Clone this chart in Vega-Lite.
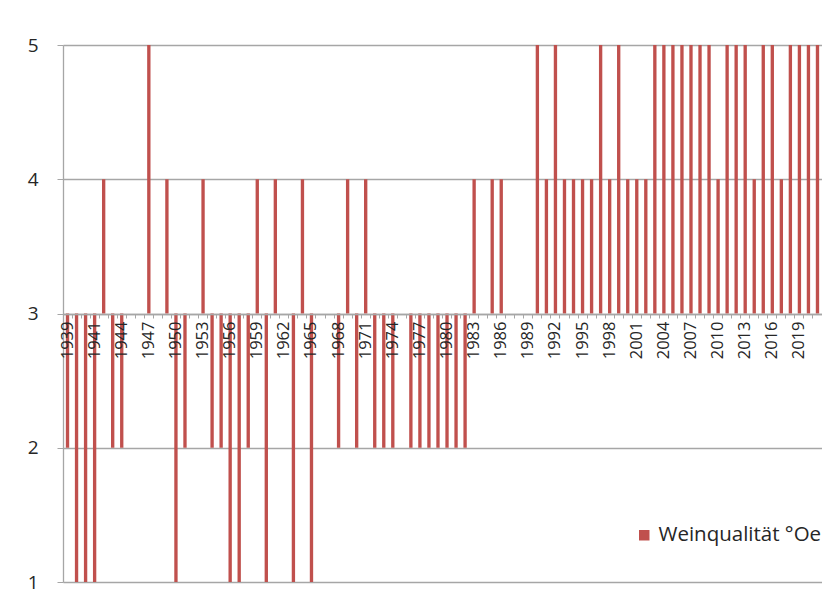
{
  "$schema": "https://vega.github.io/schema/vega-lite/v6.json",
  "width": 759,
  "height": 537,
  "autosize": "none",
  "padding": {"left": 63, "top": 45, "right": 0, "bottom": 18},
  "background": "white",
  "config": {"font": "Open Sans", "view": {"stroke": null}},
  "data": {"values": [
    {"year": 1938, "quality": 2}, {"year": 1939, "quality": 1}, {"year": 1940, "quality": 1}, {"year": 1941, "quality": 1},
    {"year": 1942, "quality": 4}, {"year": 1943, "quality": 2}, {"year": 1944, "quality": 2}, {"year": 1945, "quality": 3},
    {"year": 1946, "quality": 3}, {"year": 1947, "quality": 5}, {"year": 1948, "quality": 3}, {"year": 1949, "quality": 4},
    {"year": 1950, "quality": 1}, {"year": 1951, "quality": 2}, {"year": 1952, "quality": 3}, {"year": 1953, "quality": 4},
    {"year": 1954, "quality": 2}, {"year": 1955, "quality": 2}, {"year": 1956, "quality": 1}, {"year": 1957, "quality": 1},
    {"year": 1958, "quality": 2}, {"year": 1959, "quality": 4}, {"year": 1960, "quality": 1}, {"year": 1961, "quality": 4},
    {"year": 1962, "quality": 3}, {"year": 1963, "quality": 1}, {"year": 1964, "quality": 4}, {"year": 1965, "quality": 1},
    {"year": 1966, "quality": 3}, {"year": 1967, "quality": 3}, {"year": 1968, "quality": 2}, {"year": 1969, "quality": 4},
    {"year": 1970, "quality": 2}, {"year": 1971, "quality": 4}, {"year": 1972, "quality": 2}, {"year": 1973, "quality": 2},
    {"year": 1974, "quality": 2}, {"year": 1975, "quality": 3}, {"year": 1976, "quality": 2}, {"year": 1977, "quality": 2},
    {"year": 1978, "quality": 2}, {"year": 1979, "quality": 2}, {"year": 1980, "quality": 2}, {"year": 1981, "quality": 2},
    {"year": 1982, "quality": 2}, {"year": 1983, "quality": 4}, {"year": 1984, "quality": 3}, {"year": 1985, "quality": 4},
    {"year": 1986, "quality": 4}, {"year": 1987, "quality": 3}, {"year": 1988, "quality": 3}, {"year": 1989, "quality": 3},
    {"year": 1990, "quality": 5}, {"year": 1991, "quality": 4}, {"year": 1992, "quality": 5}, {"year": 1993, "quality": 4},
    {"year": 1994, "quality": 4}, {"year": 1995, "quality": 4}, {"year": 1996, "quality": 4}, {"year": 1997, "quality": 5},
    {"year": 1998, "quality": 4}, {"year": 1999, "quality": 5}, {"year": 2000, "quality": 4}, {"year": 2001, "quality": 4},
    {"year": 2002, "quality": 4}, {"year": 2003, "quality": 5}, {"year": 2004, "quality": 5}, {"year": 2005, "quality": 5},
    {"year": 2006, "quality": 5}, {"year": 2007, "quality": 5}, {"year": 2008, "quality": 5}, {"year": 2009, "quality": 5},
    {"year": 2010, "quality": 4}, {"year": 2011, "quality": 5}, {"year": 2012, "quality": 5}, {"year": 2013, "quality": 5},
    {"year": 2014, "quality": 4}, {"year": 2015, "quality": 5}, {"year": 2016, "quality": 5}, {"year": 2017, "quality": 4},
    {"year": 2018, "quality": 5}, {"year": 2019, "quality": 5}, {"year": 2020, "quality": 5}, {"year": 2021, "quality": 5}
  ]},
  "mark": {"type": "bar", "width": {"band": 0.37}},
  "encoding": {
    "x": {
      "field": "year",
      "type": "ordinal",
      "scale": {"paddingInner": 0, "paddingOuter": 0},
      "axis": {
        "title": null,
        "offset": -268,
        "bandPosition": 1,
        "labelAngle": -90,
        "labelAlign": "right",
        "labelBaseline": "middle",
        "labelExpr": "datum.value == 1938 ? '1939' : ((datum.value - 1938) % 3 == 0 ? '' + datum.value : '')",
        "labelOverlap": false,
        "labelFontSize": 16.5,
        "labelColor": "#262626",
        "labelPadding": 3,
        "tickSize": 4,
        "tickColor": "#a6a6a6",
        "domainColor": "#a6a6a6",
        "domainWidth": 1.3,
        "grid": false,
        "zindex": 1
      }
    },
    "y": {
      "field": "quality",
      "type": "quantitative",
      "scale": {"domain": [1, 5], "nice": false, "zero": false},
      "axis": {
        "title": null,
        "values": [1, 2, 3, 4, 5],
        "grid": true,
        "gridColor": "#a6a6a6",
        "gridWidth": 1.3,
        "domainColor": "#a6a6a6",
        "domainWidth": 1.3,
        "tickColor": "#a6a6a6",
        "tickSize": 6,
        "labelFontSize": 19,
        "labelColor": "#262626",
        "labelPadding": 19
      }
    },
    "y2": {"datum": 3},
    "color": {
      "datum": "Weinqualität °Oe",
      "scale": {"range": ["#c0504d"]},
      "legend": {
        "title": null,
        "orient": "none",
        "legendX": 571,
        "legendY": 480,
        "symbolType": "square",
        "symbolSize": 110,
        "symbolStrokeWidth": 0,
        "labelFontSize": 20.5,
        "labelLimit": 400,
        "labelColor": "#262626",
        "labelOffset": 4
      }
    }
  }
}
